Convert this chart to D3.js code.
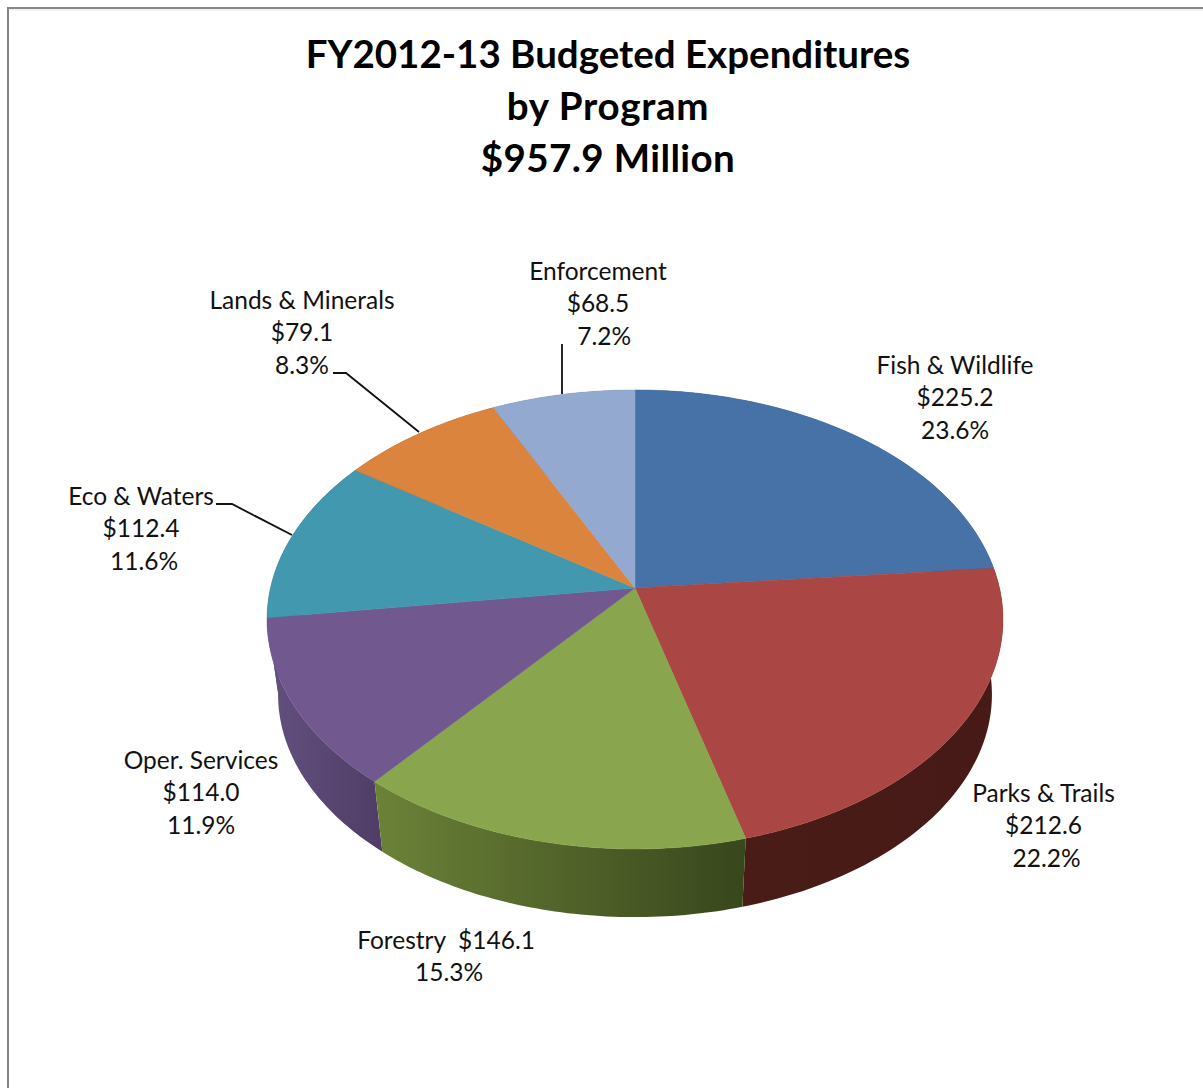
<!DOCTYPE html>
<html><head><meta charset="utf-8">
<script src="https://cdnjs.cloudflare.com/ajax/libs/d3/7.8.5/d3.min.js"></script>
<style>html,body{margin:0;padding:0;background:#fff}svg{display:block}text{font-family:Lato,"Open Sans",sans-serif;fill:#111}</style>
</head><body><svg id="c" width="1203" height="1088"></svg>
<script>
const programs=["Fish & Wildlife","Parks & Trails","Forestry","Oper. Services","Eco & Waters","Lands & Minerals","Enforcement"];
const dollars=[225.2,212.6,146.1,114.0,112.4,79.1,68.5];
const shares=[23.6,22.2,15.3,11.9,11.6,8.3,7.2];
const topColors=["#4672a8","#aa4643","#89a54e","#71588f","#4198af","#db843d","#93a9cf"];
const wallLeft=["#2a4465","#4a1c18","#6c8238","#63507f","#63507f","#8a5226","#5a6a84"];
const wallRight=["#2a4465","#481a17","#38461c","#4f3d66","#63507f","#8a5226","#5a6a84"];
const titleLines=["FY2012-13 Budgeted Expenditures","by Program","$957.9 Million"];
const titleSpacing=[0,0.7,0.4];
const labelLines=[
 ["Fish & Wildlife","$225.2","23.6%"],["Parks & Trails","$212.6"," 22.2%"],
 ["Forestry  $146.1"," 15.3%"],["Oper. Services","$114.0","11.9%"],
 ["Eco & Waters","$112.4"," 11.6%"],["Lands & Minerals","$79.1","8.3%"],
 ["Enforcement","$68.5","  7.2%"]];
const labelAnchor=[[955,365],[1043.5,793],[446,940],[201,760],[141,496],[302,300],[598,271]];
const leaders=[null,null,null,null,[[216,504],[232,504],[292,535]],[[333,373],[346,373],[419,432]],[[562,344],[562,394]]];

const svg=d3.select("#c");
const defs=svg.append("defs");
svg.append("path").attr("d","M8 1088V8H1203").attr("fill","none").attr("stroke","#868686").attr("stroke-width",2);
svg.append("path").attr("d","M10 10H1203").attr("fill","none").attr("stroke","#e4e4e4").attr("stroke-width",1);

const cx=635,cy=588,A=364.5,B=225.2,k=0.137,depthY=76,shrink=0.97;
const rim=a=>{const u=Math.sin(a),v=Math.cos(a),w=1+k*v;return [cx+A*u/w,cy-B*v/w];};
const low=p=>[cx+shrink*(p[0]-cx),cy+depthY+shrink*(p[1]-cy)];
const arcPts=(a0,a1)=>d3.range(0,61).map(i=>rim(a0+(a1-a0)*i/60));
const line=d3.line();
const arcs=d3.pie().sort(null)(shares);

// walls, painted back to front
arcs.map((d,i)=>({d,i})).sort((p,q)=>Math.cos((q.d.startAngle+q.d.endAngle)/2)-Math.cos((p.d.startAngle+p.d.endAngle)/2))
 .forEach(({d,i})=>{
  const top=arcPts(d.startAngle,d.endAngle),bot=top.map(low).reverse();
  const xs=top.concat(bot).map(p=>p[0]);
  const id="w"+i;
  const g=defs.append("linearGradient").attr("id",id).attr("gradientUnits","userSpaceOnUse")
    .attr("x1",d3.min(xs)).attr("x2",d3.max(xs)).attr("y1",0).attr("y2",0);
  g.append("stop").attr("offset",0).attr("stop-color",wallLeft[i]);
  g.append("stop").attr("offset",1).attr("stop-color",wallRight[i]);
  svg.append("path").attr("d",line(top.concat(bot))+"Z").attr("fill",`url(#${id})`);
});
arcs.forEach((d,i)=>{
  svg.append("path").attr("d",line([[cx,cy]].concat(arcPts(d.startAngle,d.endAngle)))+"Z")
    .attr("fill",topColors[i]).attr("stroke",topColors[i]).attr("stroke-width",0.5);
});
leaders.forEach(l=>{ if(l) svg.append("path").attr("d",line(l)).attr("fill","none").attr("stroke","#111").attr("stroke-width",1.8); });
svg.append("g").selectAll("text").data(titleLines).join("text")
  .attr("x",608).attr("y",(d,i)=>68+i*52).attr("text-anchor","middle")
  .attr("font-size",38.5).attr("font-weight",700).style("fill","#000")
  .style("letter-spacing",(d,i)=>titleSpacing[i]+"px").text(d=>d);
labelLines.forEach((ls,i)=>{
  const [x,y]=labelAnchor[i];
  svg.append("g").selectAll("text").data(ls).join("text")
   .style("white-space","pre")
   .attr("x",x).attr("y",(d,j)=>y+8.5+j*32.5).attr("text-anchor","middle")
   .attr("font-size",24.5).text(d=>d);
});
</script></body></html>
